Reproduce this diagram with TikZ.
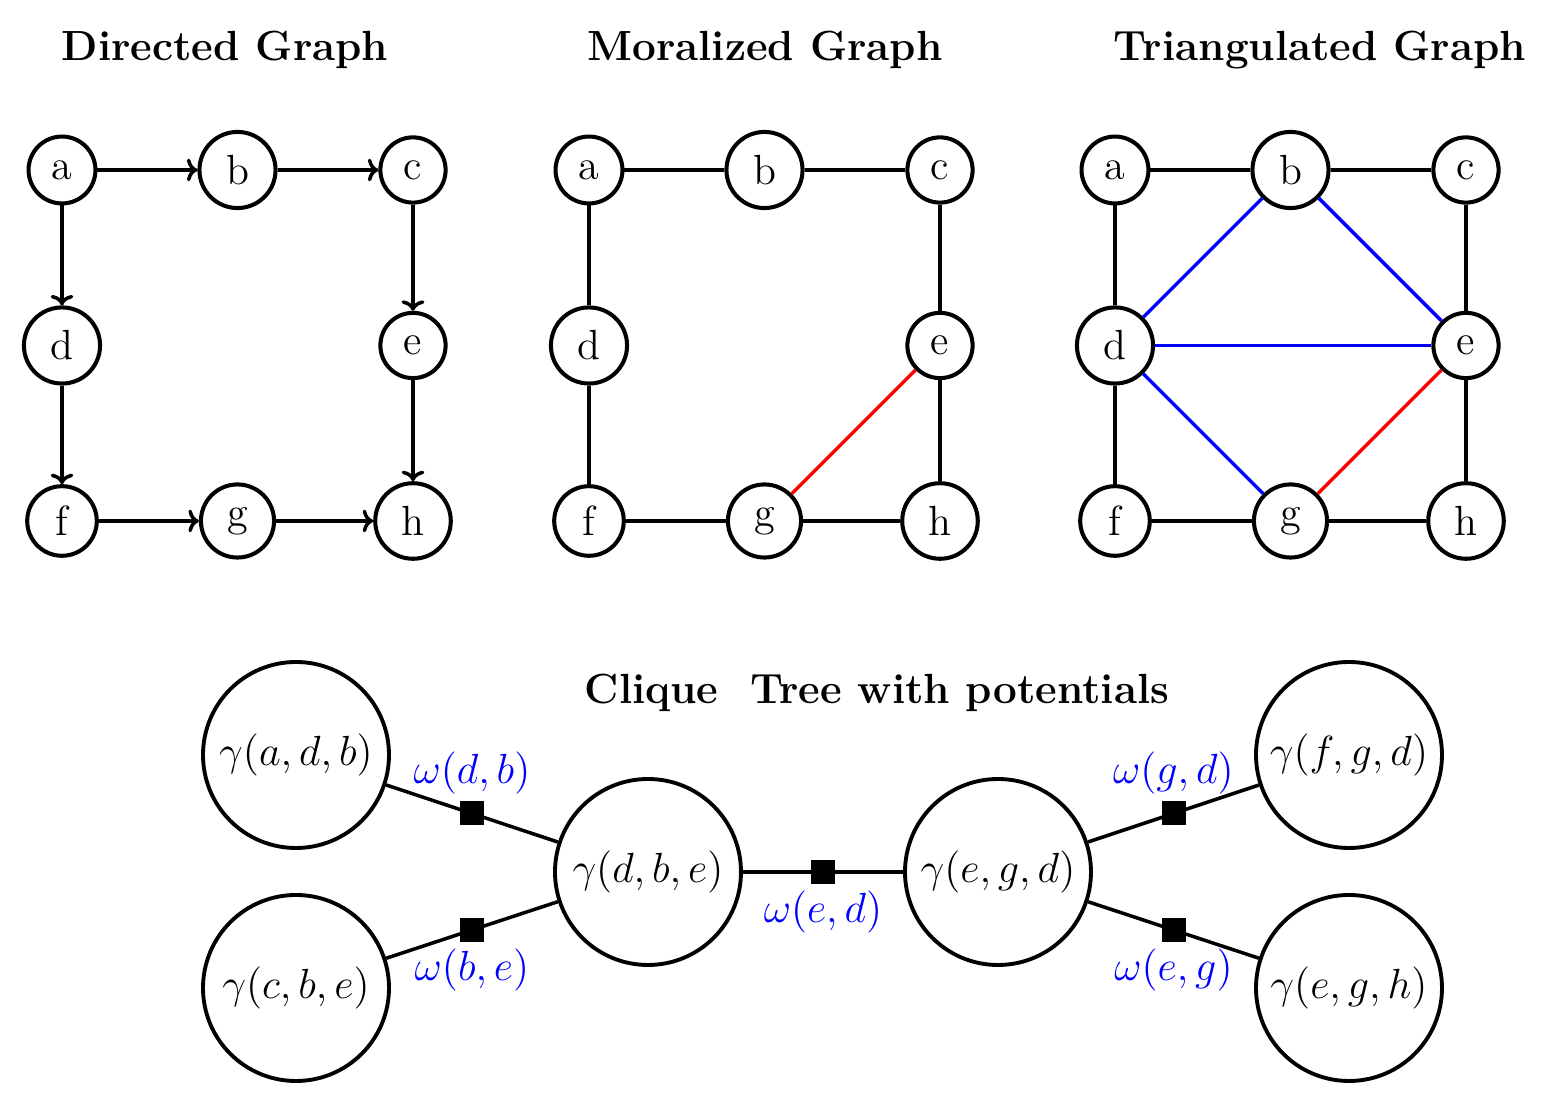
\documentclass[12pt,tikz,border=0pt]{standalone}
\usetikzlibrary{arrows.meta}

\begin{document}
\begin{tikzpicture}[
    vtx/.style={circle, draw, line width=1.15pt, inner sep=3.9pt},
    clq/.style={circle, draw, line width=1.1pt, minimum size=1.86cm, inner sep=0pt},
    fac/.style={rectangle, fill=black, minimum size=0.24cm, inner sep=0pt},
    pot/.style={text=blue, inner sep=0pt},
    edge/.style={line width=1pt},
    arc/.style={edge, -{To[length=3pt, width=6.5pt]}},
    ttl/.style={font=\bfseries}
  ]
  \useasboundingbox (0,0) rectangle (15.66,11.17);

  % titles
  \node[ttl] (t1) at (2.25,10.67) {Directed Graph};
  \node[ttl] (t2) at (7.65,10.67) {Moralized Graph};
  \node[ttl] (t3) at (13.20,10.67) {Triangulated Graph};

  % the three graphs on the same grid
  \foreach \g/\x in {dg/0, mg/5.27, tg/10.53} {
    \foreach \n/\c/\r in {a/0/0, b/1/0, c/2/0, d/0/1, e/2/1, f/0/2, g/1/2, h/2/2}
      \node[vtx] (\g\n) at ({0.62+\x+1.755*\c},{9.47-1.755*\r}) {\n};
  }

  \foreach \u/\v in {a/b, b/c, a/d, c/e, d/f, e/h, f/g, g/h} {
    \draw[arc] (dg\u) -- (dg\v);
    \draw[edge] (mg\u) -- (mg\v);
    \draw[edge] (tg\u) -- (tg\v);
  }
  \draw[edge, red] (mge) -- (mgg);
  \draw[edge, red] (tge) -- (tgg);
  \foreach \u/\v in {b/d, b/e, d/e, d/g}
    \draw[edge, blue] (tg\u) -- (tg\v);

  % clique tree
  \node[ttl] (t4) at (8.77,4.24) {Clique\ \ Tree with potentials};

  \node[clq] (adb) at (2.96,3.62) {$\gamma(a,d,b)$};
  \node[clq] (cbe) at (2.96,1.29) {$\gamma(c,b,e)$};
  \node[clq] (dbe) at (6.48,2.45) {$\gamma(d,b,e)$};
  \node[clq] (egd) at (9.98,2.45) {$\gamma(e,g,d)$};
  \node[clq] (fgd) at (13.49,3.62) {$\gamma(f,g,d)$};
  \node[clq] (egh) at (13.49,1.29) {$\gamma(e,g,h)$};

  \draw[edge] (adb) -- node[fac, label={[pot, label distance=1pt]above:$\omega(d,b)$}] (s1) {} (dbe);
  \draw[edge] (cbe) -- node[fac, label={[pot, label distance=1pt]below:$\omega(b,e)$}] (s2) {} (dbe);
  \draw[edge] (dbe) -- node[fac, label={[pot, label distance=1pt]below:$\omega(e,d)$}] (s3) {} (egd);
  \draw[edge] (egd) -- node[fac, label={[pot, label distance=1pt]above:$\omega(g,d)$}] (s4) {} (fgd);
  \draw[edge] (egd) -- node[fac, label={[pot, label distance=1pt]below:$\omega(e,g)$}] (s5) {} (egh);
\end{tikzpicture}
\end{document}
